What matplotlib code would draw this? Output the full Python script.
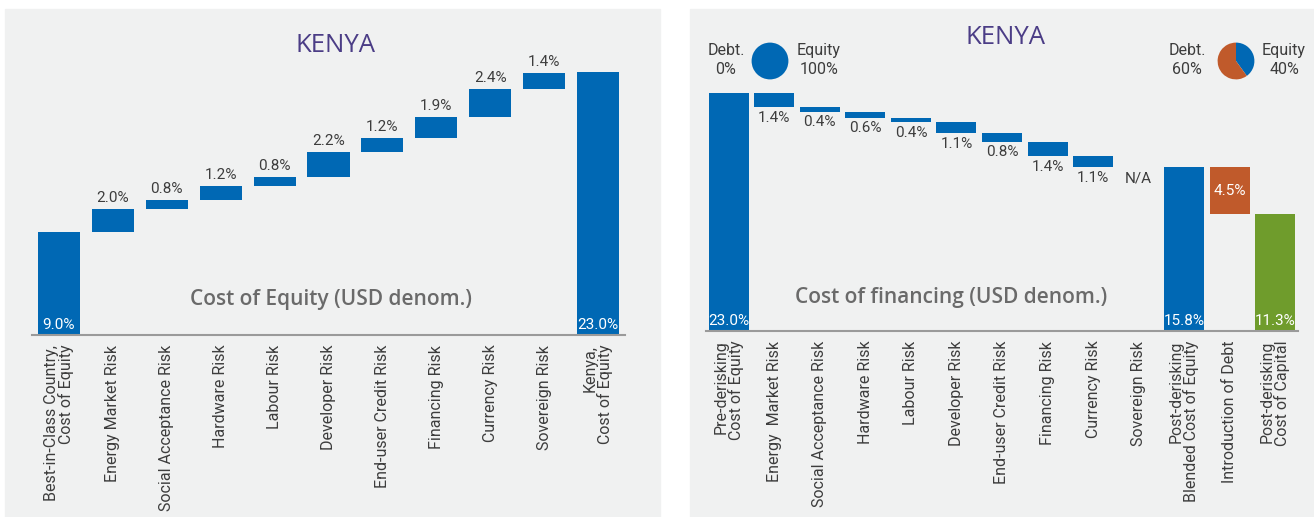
import matplotlib.pyplot as plt
from matplotlib.patches import Rectangle
from matplotlib import font_manager

# left chart: cost of equity build-up
eq_labels = ['Best-in-Class Country,\nCost of Equity', 'Energy Market Risk',
             'Social Acceptance Risk', 'Hardware Risk', 'Labour Risk',
             'Developer Risk', 'End-user Credit Risk', 'Financing Risk',
             'Currency Risk', 'Sovereign Risk', 'Kenya,\nCost of Equity']
eq_base = 9.0
eq_steps = [2.0, 0.8, 1.2, 0.8, 2.2, 1.2, 1.9, 2.4, 1.4]
eq_total = 23.0

# right chart: cost of financing after derisking
fin_labels = ['Pre-derisking\nCost of Equity', 'Energy  Market Risk',
              'Social Acceptance Risk', 'Hardware Risk', 'Labour Risk',
              'Developer Risk', 'End-user Credit Risk', 'Financing Risk',
              'Currency Risk', 'Sovereign Risk', 'Post-derisking\nBlended Cost of Equity',
              'Introduction of Debt', 'Post-derisking\nCost of Capital']
fin_start = 23.0
fin_steps = [1.4, 0.4, 0.6, 0.4, 1.1, 0.8, 1.4, 1.1, None]
fin_blended = 15.8
fin_debt = 4.5
fin_capital = 11.3

pie_before = [100, 0]   # equity, debt
pie_after = [40, 60]

BLUE = '#0068b4'
ORANGE = '#c05a2b'
GREEN = '#6f9c2c'
LIGHT = '#a9c9e8'
PANEL = '#f0f1f1'
TXT = '#3d3d3d'
PURPLE = '#4b3d86'

names = {f.name for f in font_manager.fontManager.ttflist}
NARROW = ['Liberation Sans Narrow'] if 'Liberation Sans Narrow' in names else ['Roboto']
NARROW = NARROW + ['DejaVu Sans']

W, H = 1314, 517
fig = plt.figure(figsize=(W / 100, H / 100), dpi=100)
fig.patch.set_facecolor('white')

def px(x0, y0, w, h):
    # pixel box (from top-left) -> figure fractions
    return [x0 / W, 1 - (y0 + h) / H, w / W, h / H]

for x0, x1 in [(5, 660), (690, 1314)]:
    fig.patches.append(Rectangle((x0 / W, 0), (x1 - x0) / W, 1 - 9 / H,
                                 transform=fig.transFigure, color=PANEL, zorder=-10))

def style_axes(ax, labels):
    ax.set_facecolor('none')
    for s in ['top', 'right', 'left']:
        ax.spines[s].set_visible(False)
    ax.spines['bottom'].set_color('#9a9a9a')
    ax.spines['bottom'].set_linewidth(1.5)
    ax.set_yticks([])
    ax.set_xticks(range(len(labels)))
    ax.set_xticklabels(labels, rotation=90, fontsize=11.5, color=TXT,
                       family=NARROW, linespacing=0.95, va='top', ha='center',
                       multialignment='right')
    ax.tick_params(axis='x', length=0, pad=7)

# ---- left chart
ax1 = fig.add_axes(px(32, 10, 593, 325))
n1 = len(eq_labels)
ax1.set_xlim(-0.5, n1 - 0.5)
ax1.set_ylim(0, 325 / 11.43)
bw1 = 0.78
ax1.bar(0, eq_base, width=bw1, color=BLUE)
ax1.text(0, 0.3, f'{eq_base:.1f}%', color='white', ha='center', va='bottom',
         fontsize=11, family=NARROW)
level = eq_base
for i, v in enumerate(eq_steps, start=1):
    ax1.bar(i, v, bottom=level, width=bw1, color=BLUE)
    ax1.text(i, level + v + 0.35, f'{v:.1f}%', color=TXT, ha='center', va='bottom',
             fontsize=11, family=NARROW)
    level += v
ax1.bar(n1 - 1, eq_total, width=bw1, color=BLUE)
ax1.text(n1 - 1, 0.3, f'{eq_total:.1f}%', color='white', ha='center', va='bottom',
         fontsize=11, family=NARROW)
style_axes(ax1, eq_labels)
fig.text(335 / W, 1 - 45 / H, 'KENYA', color=PURPLE, fontsize=18.5, ha='center',
         va='center', family=['Open Sans', 'DejaVu Sans'])
fig.text(331 / W, 1 - 300 / H, 'Cost of Equity (USD denom.)', color='#6a6a6a',
         fontsize=15, ha='center', va='center', family=['Open Sans', 'DejaVu Sans'],
         weight='semibold')

# ---- right chart
ax2 = fig.add_axes(px(706, 10, 592, 321))
n2 = len(fin_labels)
ax2.set_xlim(-0.5, n2 - 0.5)
ax2.set_ylim(0, 321 / 10.35)
bw2 = 0.88
ax2.bar(0, fin_start, width=bw2, color=BLUE)
ax2.text(0, 0.3, f'{fin_start:.1f}%', color='white', ha='center', va='bottom',
         fontsize=11, family=NARROW)
level = fin_start
for i, v in enumerate(fin_steps, start=1):
    if v is None:
        ax2.bar(i, 0.12, width=bw2, color=LIGHT)
        ax2.text(i, level - 0.35, 'N/A', color=TXT, ha='center', va='top',
                 fontsize=11, family=NARROW)
        continue
    ax2.bar(i, -v, bottom=level, width=bw2, color=BLUE)
    ax2.text(i, level - v - 0.35, f'{v:.1f}%', color=TXT, ha='center', va='top',
             fontsize=11, family=NARROW)
    level -= v
ax2.bar(10, fin_blended, width=bw2, color=BLUE)
ax2.text(10, 0.3, f'{fin_blended:.1f}%', color='white', ha='center', va='bottom',
         fontsize=11, family=NARROW)
ax2.bar(11, -fin_debt, bottom=fin_blended, width=bw2, color=ORANGE)
ax2.text(11, fin_blended - fin_debt / 2, f'{fin_debt:.1f}%', color='white',
         ha='center', va='center', fontsize=11, family=NARROW)
ax2.bar(12, fin_capital, width=bw2, color=GREEN)
ax2.text(12, 0.3, f'{fin_capital:.1f}%', color='white', ha='center', va='bottom',
         fontsize=11, family=NARROW)
style_axes(ax2, fin_labels)
fig.text(1005 / W, 1 - 38 / H, 'KENYA', color=PURPLE, fontsize=18.5, ha='center',
         va='center', family=['Open Sans', 'DejaVu Sans'])
fig.text(951 / W, 1 - 297 / H, 'Cost of financing (USD denom.)', color='#6a6a6a',
         fontsize=15, ha='center', va='center', family=['Open Sans', 'DejaVu Sans'],
         weight='semibold')

# pies
for cx, cy, shares in [(770, 61, pie_before), (1236, 61, pie_after)]:
    pax = fig.add_axes(px(cx - 23, cy - 23, 46, 46))
    pax.pie(shares, colors=[BLUE, ORANGE], startangle=90, counterclock=False,
            wedgeprops=dict(linewidth=0))
    pax.set_aspect('equal')

for x, y, s, ha in [(726, 60, f'Debt.\n{pie_before[1]}%', 'center'),
                    (797, 60, f'Equity\n{pie_before[0]}%', 'left'),
                    (1187, 60, f'Debt.\n{pie_after[1]}%', 'center'),
                    (1262, 60, f'Equity\n{pie_after[0]}%', 'left')]:
    fig.text(x / W, 1 - y / H, s, color=TXT, fontsize=11.5, ha=ha, va='center',
             family=NARROW, linespacing=1.35, multialignment='center')

fig.savefig('out.png', dpi=100, facecolor='white')
